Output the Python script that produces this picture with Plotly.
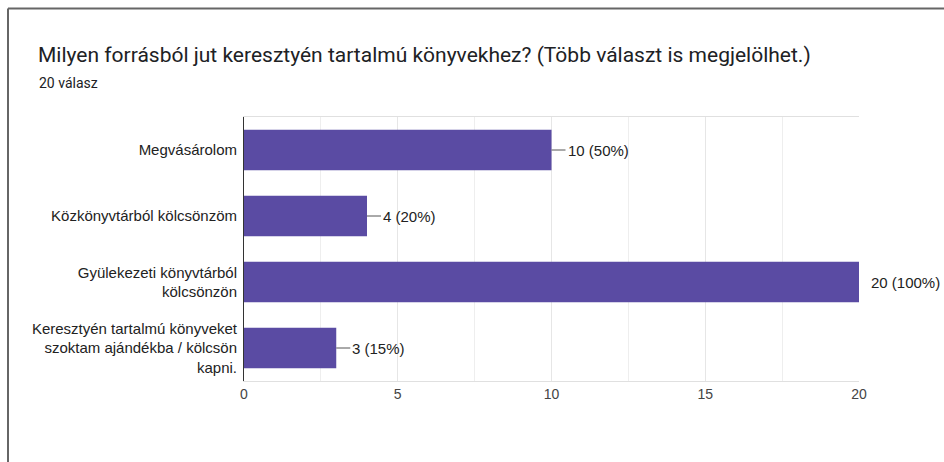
import plotly.graph_objects as go

# ---- data ----
CATEGORIES = [
    "Megvásárolom",
    "Közkönyvtárból kölcsönzöm",
    "Gyülekezeti könyvtárból<br>kölcsönzön",
    "Keresztyén tartalmú könyveket<br>szoktam ajándékba / kölcsön<br>kapni.",
]
COUNTS = [10, 4, 20, 3]
TOTAL = 20
X_TICKS = [0, 5, 10, 15, 20]

TITLE = "Milyen forrásból jut keresztyén tartalmú könyvekhez? (Több választ is megjelölhet.)"
SUBTITLE = f"{TOTAL} válasz"

BAR_COLOR = "#5a4ba3"
W, H = 944, 462
L, R, T, B = 244, 944 - 859, 117, 462 - 381


def px_to_paper(px, py):
    """Convert window pixel position into paper coords of the plot area."""
    pw = W - L - R
    ph = H - T - B
    return (px - L) / pw, (H - B - py) / ph


def build_figure():
    fig = go.Figure(go.Bar(
        x=COUNTS,
        y=CATEGORIES,
        orientation="h",
        marker=dict(color=BAR_COLOR, line=dict(width=0)),
        hoverinfo="skip",
    ))

    # value labels with the short leader line
    for cat, n in zip(CATEGORIES, COUNTS):
        label = f"{n} ({n / TOTAL:.0%})"
        if n < max(X_TICKS):
            fig.add_annotation(
                x=n, y=cat, text=label, showarrow=True, arrowhead=0,
                arrowwidth=1, arrowcolor="#555", ax=14, ay=0,
                xanchor="left", font=dict(size=15, color="#222"),
            )
        else:
            fig.add_annotation(
                x=n, y=cat, text=label, showarrow=False, xanchor="left",
                xshift=10, font=dict(size=15, color="#222"),
            )

    # subtitle
    sx, sy = px_to_paper(37, 83)
    fig.add_annotation(
        x=sx, y=sy, xref="paper", yref="paper", text=SUBTITLE,
        showarrow=False, xanchor="left", yanchor="middle",
        font=dict(family="Roboto", size=14, color="#202124"),
    )

    # frame of the screenshot (top and left edges)
    x0, y0 = px_to_paper(8, 8.5)
    x1, y1 = px_to_paper(W, H)
    fig.add_shape(type="line", xref="paper", yref="paper",
                  x0=x0, y0=y0, x1=x1, y1=y0, line=dict(color="#666", width=2))
    fig.add_shape(type="line", xref="paper", yref="paper",
                  x0=x0, y0=y0, x1=x0, y1=y1, line=dict(color="#666", width=2))

    fig.update_layout(
        width=W, height=H,
        margin=dict(l=L, r=R, t=T, b=B),
        paper_bgcolor="white",
        plot_bgcolor="white",
        showlegend=False,
        bargap=0.39,
        font=dict(family="Liberation Sans, Arial", size=15, color="#222"),
        title=dict(
            text=TITLE, xref="container", yref="container",
            x=38 / W, y=1 - 55 / H, xanchor="left", yanchor="middle",
            font=dict(family="Roboto", size=21, color="#202124"),
        ),
        xaxis=dict(
            range=[0, 20], tickvals=X_TICKS, showgrid=True,
            gridcolor="#e6e6e6", zeroline=False,
            minor=dict(dtick=2.5, showgrid=True, gridcolor="#eeeeee"),
            showline=True, linecolor="#e0e0e0", mirror=True,
            tickfont=dict(size=14, color="#444"), ticks="",
        ),
        yaxis=dict(
            autorange="reversed", showline=True, linecolor="#333",
            linewidth=1, ticks="", ticklabelstandoff=3,
            tickfont=dict(size=15, color="#222"), showgrid=False,
        ),
    )
    return fig


def main():
    fig = build_figure()
    # drop the default body margin so the figure fills the window exactly
    fig.write_html(
        "out.html",
        config={"displayModeBar": False},
        post_script="document.body.style.margin='0';",
    )


if __name__ == "__main__":
    main()
